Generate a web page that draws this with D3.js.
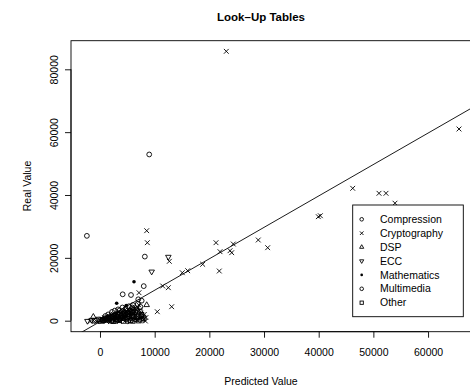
<!DOCTYPE html>
<html><head><meta charset="utf-8">
<script src="https://cdn.jsdelivr.net/npm/d3@7"></script>
<style>body{margin:0;background:#fff}svg{display:block}text{font-family:"Liberation Sans",Arial,sans-serif;fill:#000}</style>
</head><body><svg id="c" width="470" height="392"></svg>
<script>
const categories = ["Compression","Cryptography","DSP","ECC","Mathematics","Multimedia","Other"];
const xTicks = [0,10000,20000,30000,40000,50000,60000];
const yTicks = [0,20000,40000,60000,80000];
const compression = [[-2400,27000],[9000,52900],[8200,20400],[8000,11000],[1000,1500],[2200,2800],[3300,3600],[4100,4200],[5300,4600],[6000,5000],[6900,5300],[2700,3200],[4700,3900],[1800,300],[3900,700],[6100,900]];
const cryptography = [[23100,85720],[8540,28640],[8660,24820],[21216,24820],[24380,24400],[21950,21960],[23780,22270],[24090,21640],[28950,25680],[30670,23230],[18780,17950],[21820,15810],[12680,18900],[15050,15270],[16040,15910],[11470,11040],[12500,10500],[13110,4450],[10480,2860],[7130,8910],[46220,42130],[51030,40540],[52310,40540],[39930,33100],[40300,33400],[53950,37400],[65660,61000],
 [300,500],[800,1000],[1300,900],[1700,1400],[2100,1700],[2400,2100],[2800,1800],[3100,2400],[3500,2800],[3900,2500],[4200,3000],[4500,3300],[4800,2900],[5100,3500],[5400,3200],[5700,3700],[6000,3400],[6300,3900],[6600,3600],[6900,4100],[7200,3300],[7500,2400],[7800,1200],[8100,2000],[8400,1000],[4400,1300],[5600,1600],[6500,2000],[3000,800],[1000,200],[7100,5000],
 [-1800,-200],[-1200,100],[-600,-300],[0,200],[400,-200],[700,400],[1100,-100],[1600,300],[1900,-300],[2200,500],[2700,100],[3300,300],[3600,-200],[4100,400],[4700,200],[5300,500],[5900,300],[6400,600],[6800,200],[7300,700],[7900,400],[8300,-100],[4600,2400],[5500,2600],[6200,2300],[3400,1600],[2600,1200]];
const dsp = [[8540,5000],[-1220,1270],[1400,600],[2500,900]];
const ecc = [[12500,20300],[9450,15600],[-1520,220],[3500,400],[-2300,-100]];
const mathematics = [[6220,12400],[3050,5540],[4800,4800]];
const multimedia = [[1500,2000],[3600,3300],[5900,4200],[7400,4400],[4150,8400],[5670,8180],[7000,6810],[7620,6360],[2900,-100],[5100,-200]];
const other = [[500,300],[900,700],[1200,500],[1500,1000],[1800,800],[2000,1300],[2300,1100],[2600,1600],[2900,1400],[3200,1900],[3400,1200],[3700,2100],[4000,1700],[4300,2400],[4600,2000],[4900,2600],[5200,2200],[5500,2900],[5800,2500],[6100,3100],[6400,2700],[6700,3400],[7000,1500],[7300,2800],[7600,1900],[2500,600],[3800,900],[5000,1100],[6200,1300],
 [-900,0],[-300,400],[200,-100],[600,100],[1400,200],[2100,0],[2400,-200],[3000,400],[3500,100],[4300,-100],[4900,600],[5600,100],[6000,-100],[6600,500],[7100,0],[7700,300],[8000,800],[3100,1000],[4200,900],[5300,1400],[5900,1800],[6800,1100],[7500,1400],[3900,1400],[4500,1700],[5100,2000]];
const fitLine = {intercept:-300, slope:1.0};

const svg = d3.select("#c");
const L=71, T=40.7, B=331.7, R=478;
const x = d3.scaleLinear().domain([-5304, (R-100)*182.9]).range([L,R]);
const y = d3.scaleLinear().domain([-3500, 89100]).range([B,T]);

function sym(g, kind, cx, cy, s){
  const sw=0.9;
  if(kind==="circle") g.append("circle").attr("cx",cx).attr("cy",cy).attr("r",2.4*s).attr("fill","none").attr("stroke","#000").attr("stroke-width",sw);
  else if(kind==="cross"){const h=2.4*s; g.append("path").attr("d",`M${cx-h},${cy-h}L${cx+h},${cy+h}M${cx-h},${cy+h}L${cx+h},${cy-h}`).attr("stroke","#000").attr("stroke-width",sw);}
  else if(kind==="up"){const r=3.2*s; g.append("path").attr("d",`M${cx},${cy-r}L${cx+r*0.866},${cy+r*0.5}L${cx-r*0.866},${cy+r*0.5}Z`).attr("fill","none").attr("stroke","#000").attr("stroke-width",sw);}
  else if(kind==="down"){const r=3.2*s; g.append("path").attr("d",`M${cx},${cy+r}L${cx+r*0.866},${cy-r*0.5}L${cx-r*0.866},${cy-r*0.5}Z`).attr("fill","none").attr("stroke","#000").attr("stroke-width",sw);}
  else if(kind==="dot") g.append("circle").attr("cx",cx).attr("cy",cy).attr("r",1.8*s).attr("fill","#000");
  else if(kind==="square"){const h=2.2*s; g.append("rect").attr("x",cx-h).attr("y",cy-h).attr("width",2*h).attr("height",2*h).attr("fill","none").attr("stroke","#000").attr("stroke-width",sw);}
}
const kinds = ["circle","cross","up","down","dot","circle","square"];
const sets = [compression,cryptography,dsp,ecc,mathematics,multimedia,other];

svg.append("clipPath").attr("id","pc").append("rect").attr("x",L).attr("y",T).attr("width",R-L).attr("height",B-T);
const pg = svg.append("g").attr("clip-path","url(#pc)");
sets.forEach((d,i)=>d.forEach(p=>sym(pg,kinds[i],x(p[0]),y(p[1]),1)));
const x0=-5304, x1=(R-100)*182.9;
pg.append("line").attr("x1",x(x0)).attr("y1",y(fitLine.intercept+fitLine.slope*x0)).attr("x2",x(x1)).attr("y2",y(fitLine.intercept+fitLine.slope*x1)).attr("stroke","#000").attr("stroke-width",0.9);

svg.append("rect").attr("x",L).attr("y",T).attr("width",R-L).attr("height",B-T).attr("fill","none").attr("stroke","#000").attr("stroke-width",0.9);

const xa = svg.append("g").attr("transform",`translate(0,${B})`).call(d3.axisBottom(x).tickValues(xTicks).tickSize(6).tickPadding(11).tickFormat(d3.format("d")));
xa.select(".domain").attr("d",`M${x(0)},0H${x(60000)}`);
const ya = svg.append("g").attr("transform",`translate(${L},0)`).call(d3.axisLeft(y).tickValues(yTicks).tickSize(6).tickFormat(d3.format("d")));
ya.select(".domain").attr("d",`M0,${y(0)}V${y(80000)}`);
svg.selectAll(".tick line").attr("stroke-width",0.9);
svg.selectAll(".domain").attr("stroke-width",0.9);
xa.selectAll("text").attr("font-size","10.5px").attr("font-family","Liberation Sans, Arial, sans-serif");
ya.selectAll("text").attr("font-size","10.5px").attr("font-family","Liberation Sans, Arial, sans-serif")
  .attr("text-anchor","middle").attr("transform",`translate(${54-L},0) rotate(-90)`).attr("x",0).attr("y",0).attr("dy","0.35em");

svg.append("text").attr("x",261).attr("y",21).attr("text-anchor","middle").attr("font-weight","bold").attr("font-size","11.5px").text("Look–Up Tables");
svg.append("text").attr("x",261).attr("y",385).attr("text-anchor","middle").attr("font-size","10.5px").text("Predicted Value");
svg.append("text").attr("transform","translate(31,186) rotate(-90)").attr("text-anchor","middle").attr("font-size","10.5px").text("Real Value");

const lg = svg.append("g");
lg.append("rect").attr("x",352.7).attr("y",205).attr("width",110.6).attr("height",111.7).attr("fill","#fff").attr("stroke","#000").attr("stroke-width",0.9);
categories.forEach((c,i)=>{
  const cy=219.3+i*13.9;
  sym(lg,kinds[i],361.7,cy,0.75);
  lg.append("text").attr("x",380).attr("y",cy).attr("dy","0.35em").attr("font-size","10.5px").text(c);
});
</script></body></html>
